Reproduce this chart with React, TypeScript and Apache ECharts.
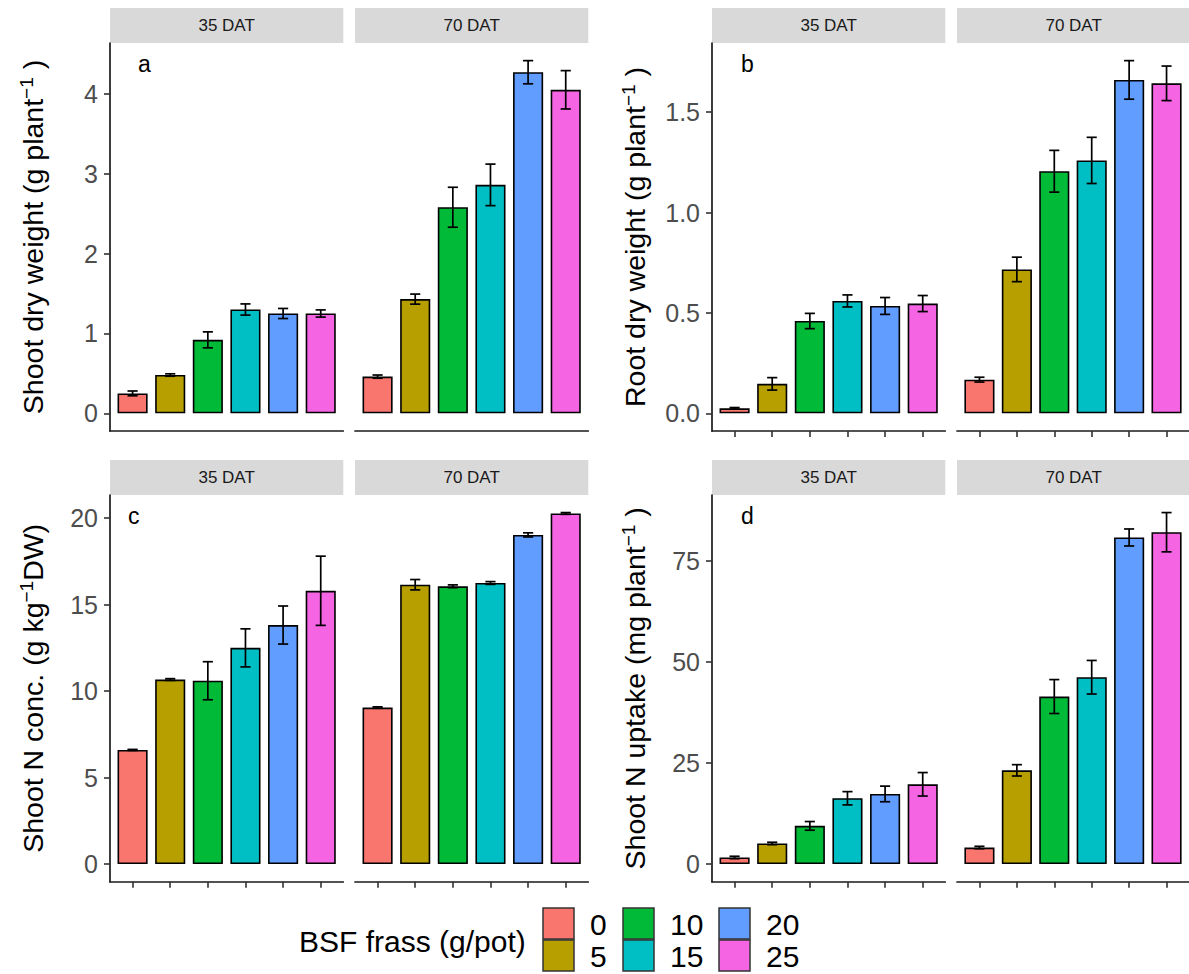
import React, { useEffect, useRef } from 'react';
import * as echarts from 'echarts';

// BSF frass application rates (g/pot) and sampling times
const frassRates = ['0', '5', '10', '15', '20', '25'];
const samplingTimes = ['35 DAT', '70 DAT'];
const frassColors = ['#F8766D', '#B79F00', '#00BA38', '#00BFC4', '#619CFF', '#F564E3'];

// (a) shoot dry weight, g plant-1 (mean and SE)
const shootDw35 = [0.25, 0.48, 0.92, 1.30, 1.25, 1.25];
const shootDwSe35 = [0.03, 0.015, 0.10, 0.07, 0.063, 0.045];
const shootDw70 = [0.46, 1.43, 2.58, 2.86, 4.27, 4.05];
const shootDwSe70 = [0.02, 0.063, 0.25, 0.26, 0.145, 0.24];

// (b) root dry weight, g plant-1
const rootDw35 = [0.025, 0.147, 0.46, 0.56, 0.535, 0.547];
const rootDwSe35 = [0.004, 0.031, 0.038, 0.03, 0.042, 0.04];
const rootDw70 = [0.168, 0.717, 1.206, 1.26, 1.661, 1.644];
const rootDwSe70 = [0.012, 0.061, 0.104, 0.115, 0.096, 0.086];

// (c) shoot N concentration, g kg-1 DW
const shootNConc35 = [6.6, 10.67, 10.6, 12.5, 13.82, 15.8];
const shootNConcSe35 = [0.03, 0.05, 1.1, 1.1, 1.1, 2.0];
const shootNConc70 = [9.05, 16.15, 16.06, 16.25, 19.03, 20.27];
const shootNConcSe70 = [0.04, 0.3, 0.08, 0.08, 0.12, 0.05];

// (d) shoot N uptake, mg plant-1
const shootNUptake35 = [1.64, 5.1, 9.45, 16.27, 17.34, 19.72];
const shootNUptakeSe35 = [0.3, 0.3, 1.07, 1.64, 1.93, 2.9];
const shootNUptake70 = [4.1, 23.17, 41.4, 46.17, 80.7, 82.0];
const shootNUptakeSe70 = [0.3, 1.4, 4.19, 4.15, 2.1, 4.85];

// y-axis tick values
const shootDwTicks = [0, 1, 2, 3, 4];
const rootDwTicks = [0, 0.5, 1, 1.5];
const shootNConcTicks = [0, 5, 10, 15, 20];
const shootNUptakeTicks = [0, 25, 50, 75];

const FONT = "'Liberation Sans', Arial, Helvetica, sans-serif";

// facet layout (px)
const FACET_W = 233.3;
const FACET_GAP = 11.7;
const COL_LEFT = [110, 712];
const ROW_TOP = [43, 495];
const ROW_H = [388, 386.7];
const STRIP_H = 35;
const BAR_FRAC = 0.8;
const CAP_W = 0.27;

const panels = [
  {
    letter: 'a', col: 0, row: 0, letterX: 138,
    name: '{t|Shoot dry weight (g plant}{s|−1}{t| )}',
    means: [shootDw35, shootDw70], ses: [shootDwSe35, shootDwSe70],
    ticks: shootDwTicks, digits: 0, xTicks: false,
  },
  {
    letter: 'b', col: 1, row: 0, letterX: 741,
    name: '{t|Root dry weight (g plant}{s|−1}{t| )}',
    means: [rootDw35, rootDw70], ses: [rootDwSe35, rootDwSe70],
    ticks: rootDwTicks, digits: 1, xTicks: true,
  },
  {
    letter: 'c', col: 0, row: 1, letterX: 128,
    name: '{t|Shoot N conc. (g kg}{s|−1}{t|DW)}',
    means: [shootNConc35, shootNConc70], ses: [shootNConcSe35, shootNConcSe70],
    ticks: shootNConcTicks, digits: 0, xTicks: true,
  },
  {
    letter: 'd', col: 1, row: 1, letterX: 741,
    name: '{t|Shoot N uptake (mg plant}{s|−1}{t| )}',
    means: [shootNUptake35, shootNUptake70], ses: [shootNUptakeSe35, shootNUptakeSe70],
    ticks: shootNUptakeTicks, digits: 0, xTicks: true,
  },
];

function renderErrorBar(_params: any, api: any) {
  const x = api.value(0);
  const mean = api.value(1);
  const se = api.value(2);
  const hi = api.coord([x, mean + se]);
  const lo = api.coord([x, mean - se]);
  const half = api.size([CAP_W, 0])[0] / 2;
  const style = { stroke: '#000', lineWidth: 1.7 };
  return {
    type: 'group',
    children: [
      { type: 'line', shape: { x1: hi[0], y1: hi[1], x2: lo[0], y2: lo[1] }, style },
      { type: 'line', shape: { x1: hi[0] - half, y1: hi[1], x2: hi[0] + half, y2: hi[1] }, style },
      { type: 'line', shape: { x1: lo[0] - half, y1: lo[1], x2: lo[0] + half, y2: lo[1] }, style },
    ],
  };
}

function buildOption() {
  const grids: any[] = [];
  const xAxes: any[] = [];
  const yAxes: any[] = [];
  const series: any[] = [];
  const graphics: any[] = [];
  const positions = frassRates.map((_, k) => k + 1);
  const axisLineStyle = { color: '#1a1a1a', width: 1.7 };
  const tickLineStyle = { color: '#333333', width: 1.6 };

  panels.forEach((p) => {
    // shared y range across both facets, padded 5% like a ggplot continuous scale
    const top = Math.max(...p.means.flatMap((arr, f) => arr.map((v, k) => v + p.ses[f][k])));
    const yMin = -0.05 * top;
    const yMax = 1.05 * top;

    samplingTimes.forEach((time, f) => {
      const idx = grids.length;
      const left = COL_LEFT[p.col] + f * (FACET_W + FACET_GAP);
      const gTop = ROW_TOP[p.row];
      const gH = ROW_H[p.row];
      grids.push({ left, top: gTop, width: FACET_W, height: gH });

      xAxes.push({
        type: 'value', gridIndex: idx, min: 0.4, max: 6.6,
        axisLine: { show: true, onZero: false, lineStyle: axisLineStyle },
        axisTick: { show: p.xTicks, customValues: positions, length: 6, lineStyle: tickLineStyle },
        axisLabel: { show: false },
        splitLine: { show: false },
      });

      yAxes.push({
        type: 'value', gridIndex: idx, min: yMin, max: yMax, show: f === 0,
        axisLine: { show: true, onZero: false, lineStyle: axisLineStyle },
        axisTick: { show: true, customValues: p.ticks, length: 6, lineStyle: tickLineStyle },
        axisLabel: {
          customValues: p.ticks,
          formatter: (v: number) => v.toFixed(p.digits),
          fontSize: 25, color: '#4D4D4D', margin: 12, fontFamily: FONT,
        },
        splitLine: { show: false },
        name: f === 0 ? p.name : '',
        nameLocation: 'middle', nameRotate: 90, nameGap: 61,
        nameTextStyle: {
          fontFamily: FONT,
          rich: {
            t: { fontSize: 28.5, fontFamily: FONT, color: '#000', lineHeight: 32 },
            s: { fontSize: 19, fontFamily: FONT, color: '#000', lineHeight: 19, verticalAlign: 'top' },
          },
        },
      });

      series.push({
        type: 'bar', xAxisIndex: idx, yAxisIndex: idx, silent: true,
        barWidth: (FACET_W / 6.2) * BAR_FRAC,
        itemStyle: { borderColor: '#000', borderWidth: 1.6 },
        data: p.means[f].map((v, k) => ({ value: [k + 1, v], itemStyle: { color: frassColors[k] } })),
      });
      series.push({
        type: 'custom', xAxisIndex: idx, yAxisIndex: idx, silent: true, z: 5,
        renderItem: renderErrorBar,
        encode: { x: 0, y: 1 },
        data: p.means[f].map((v, k) => [k + 1, v, p.ses[f][k]]),
      });

      // facet strip
      graphics.push({
        type: 'rect', silent: true,
        shape: { x: left, y: gTop - STRIP_H, width: FACET_W, height: STRIP_H },
        style: { fill: '#D9D9D9' },
      });
      graphics.push({
        type: 'text', silent: true,
        x: left + FACET_W / 2, y: gTop - STRIP_H / 2,
        style: {
          text: time, fontSize: 17, fontFamily: FONT, fill: '#1A1A1A',
          textAlign: 'center', textVerticalAlign: 'middle',
        },
      });
    });

    // panel letter
    graphics.push({
      type: 'text', silent: true,
      x: p.letterX, y: ROW_TOP[p.row] + 21,
      style: {
        text: p.letter, fontSize: 23, fontFamily: FONT, fill: '#000',
        textAlign: 'left', textVerticalAlign: 'middle',
      },
    });
  });

  // legend: title + 2-row, column-major keys
  const KEY = 31;
  const keyX = [543, 623, 719];
  const keyY = [908, 940];
  graphics.push({
    type: 'text', silent: true, x: 299, y: 941,
    style: {
      text: 'BSF frass (g/pot)', fontSize: 30, fontFamily: FONT, fill: '#000',
      textAlign: 'left', textVerticalAlign: 'middle',
    },
  });
  frassRates.forEach((rate, k) => {
    const c = Math.floor(k / 2);
    const r = k % 2;
    graphics.push({
      type: 'rect', silent: true,
      shape: { x: keyX[c], y: keyY[r], width: KEY, height: KEY },
      style: { fill: frassColors[k], stroke: '#333', lineWidth: 1.5 },
    });
    graphics.push({
      type: 'text', silent: true,
      x: keyX[c] + KEY + 16, y: keyY[r] + KEY / 2 + 1,
      style: {
        text: rate, fontSize: 30, fontFamily: FONT, fill: '#000',
        textAlign: 'left', textVerticalAlign: 'middle',
      },
    });
  });

  return {
    animation: false,
    backgroundColor: '#ffffff',
    grid: grids,
    xAxis: xAxes,
    yAxis: yAxes,
    series,
    graphic: { elements: graphics },
  };
}

export default function App() {
  const ref = useRef<HTMLDivElement>(null);
  useEffect(() => {
    if (!ref.current) return;
    const chart = echarts.init(ref.current, undefined, { renderer: 'svg' });
    chart.setOption(buildOption() as any);
    return () => chart.dispose();
  }, []);
  return (
    <div
      ref={ref}
      style={{ position: 'absolute', left: 0, top: 0, width: 1189, height: 974, background: '#fff' }}
    />
  );
}
